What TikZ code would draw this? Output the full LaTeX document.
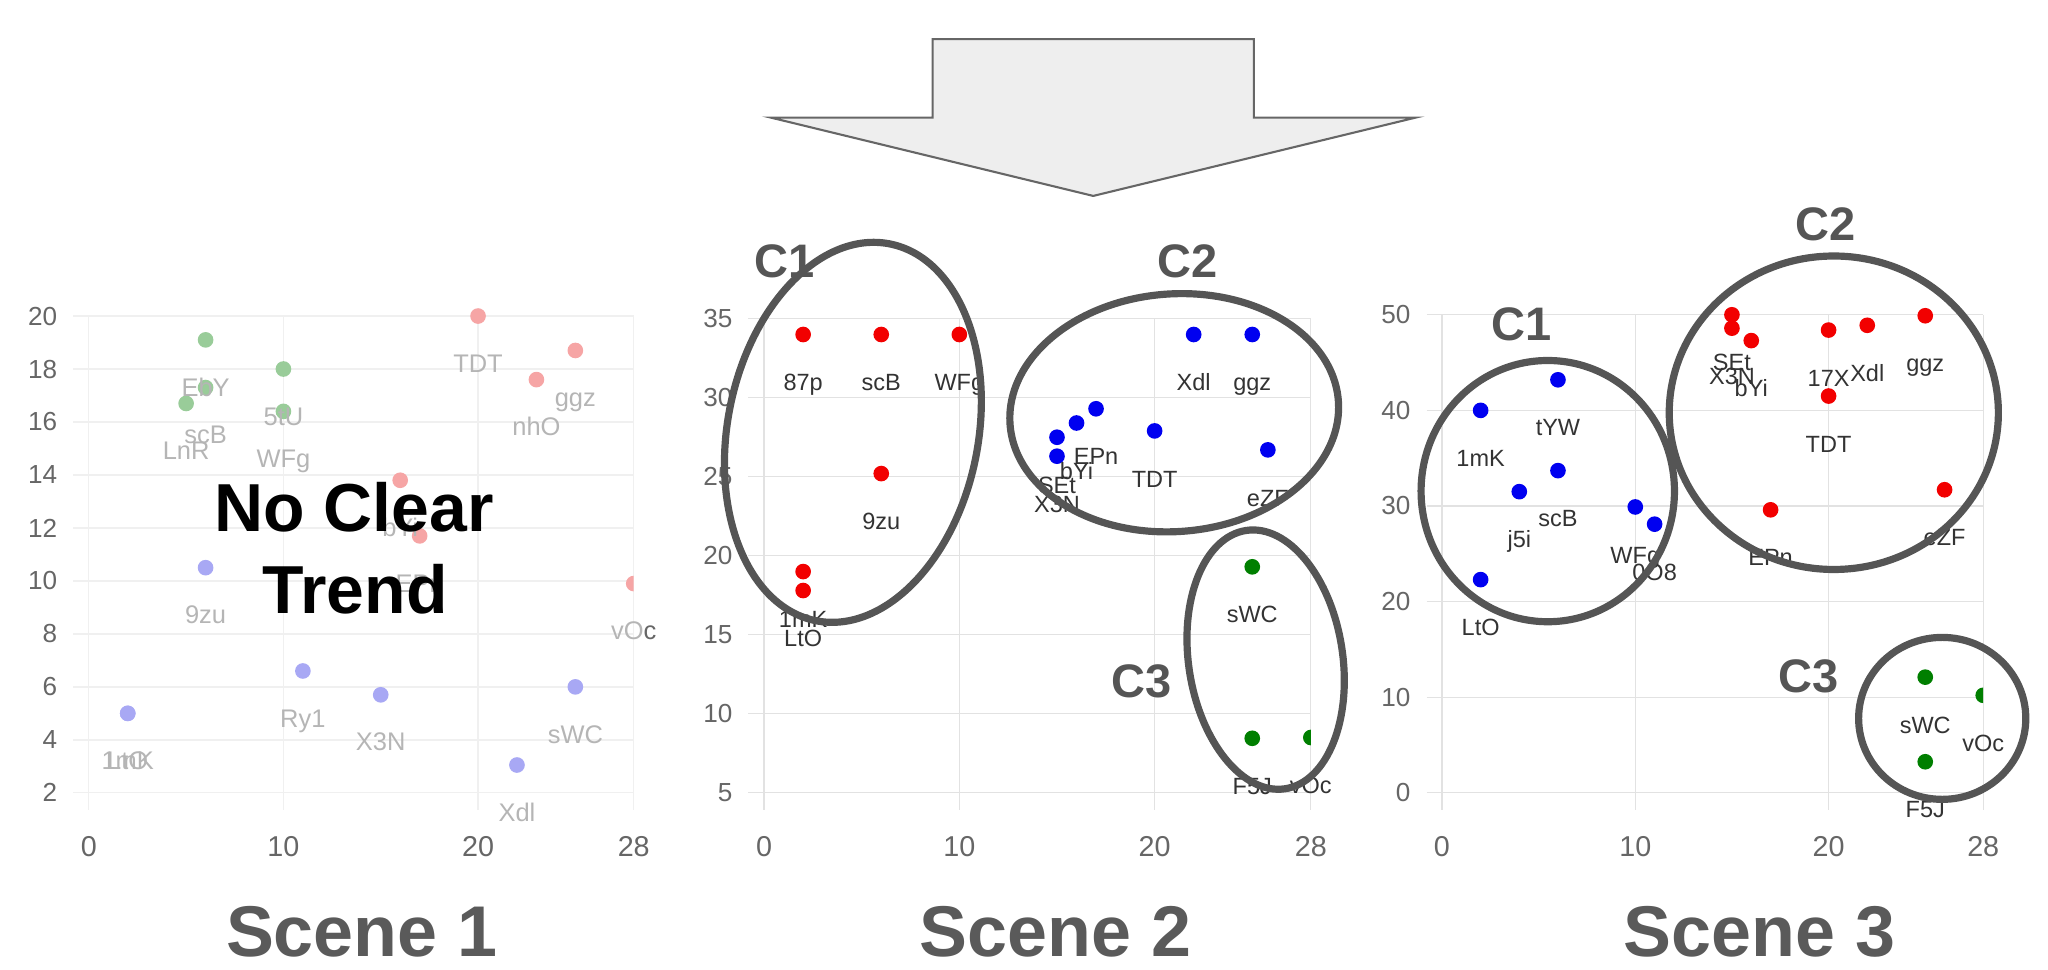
\documentclass[tikz,border=0pt]{standalone}
\usepackage{fontspec}
\setmainfont{Liberation Sans}
\usepackage{xcolor}
\usepackage{tikz}

\definecolor{gridfaint}{HTML}{F0F0F0}
\definecolor{gridline}{HTML}{E2E2E2}
\definecolor{tickgray}{HTML}{666666}
\definecolor{lblgray}{HTML}{333333}
\definecolor{fadegray}{HTML}{B5B5B5}
\definecolor{ptred}{HTML}{F20000}
\definecolor{ptblue}{HTML}{0000F0}
\definecolor{ptgreen}{HTML}{007F00}
\definecolor{fadered}{HTML}{F6A5A5}
\definecolor{fadeblue}{HTML}{A8A8F4}
\definecolor{fadegreen}{HTML}{99CC99}
\definecolor{ringgray}{HTML}{555555}
\definecolor{arrowfill}{HTML}{EEEEEE}
\definecolor{arrowline}{HTML}{666666}
\definecolor{titlegray}{HTML}{5A5A5A}

\begin{document}
\begin{tikzpicture}[x=1pt, y=-1pt,
		gridln/.style={line width=1pt},
		ytick/.style={anchor=east, xshift=-24pt, inner sep=0pt, text=tickgray, font=\fontsize{20}{20}\selectfont},
		xtick/.style={anchor=base, yshift=-49pt, inner sep=0pt, text=tickgray, font=\fontsize{22}{22}\selectfont},
		dot/.style={circle, inner sep=0pt, minimum size=12pt},
		rdot/.style={dot, fill=ptred},
		bdot/.style={dot, fill=ptblue},
		gdot/.style={dot, fill=ptgreen},
		frdot/.style={dot, fill=fadered},
		fbdot/.style={dot, fill=fadeblue},
		fgdot/.style={dot, fill=fadegreen},
		lbl/.style={anchor=base, yshift=-43pt, inner sep=0pt, text=lblgray, font=\fontsize{18}{18}\selectfont},
		flbl/.style={lbl, text=fadegray, font=\fontsize{19.5}{20}\selectfont},
		ring/.style={draw=ringgray, line width=5.5pt},
		ctag/.style={inner sep=0pt, text=ringgray, font=\fontsize{36}{36}\selectfont\bfseries},
		scene/.style={anchor=base, inner sep=0pt, text=titlegray, font=\fontsize{55}{55}\selectfont\bfseries},
		bigarrow/.style={draw=arrowline, fill=arrowfill, line width=1.6pt, line join=miter}]

		\useasboundingbox (0, 0) rectangle (1568, 742);

		\draw[bigarrow] (714, 30) -- (960, 30) -- (960, 90) -- (1084, 90) -- (837, 150) -- (590, 90) -- (714, 90) -- cycle;

		\begin{scope}[shift={(68, 607)}, x=14.9pt, y=20.28pt, shift={(0, -2)}]
			\foreach \y in {2, 4, ..., 20} {
				\draw[gridln, gridfaint] (-0.8, \y) -- (28, \y);
				\draw (0, \y) node[ytick] (ay\y) {\y};
			}
			\foreach \x in {0, 10, 20, 28} {
				\draw[gridln, gridfaint] (\x, 20) -- (\x, 1.36);
				\draw (\x, 2) node[xtick] (ax\x) {\x};
			}
			\begin{scope}
				\clip (-1, 0) rectangle (28, 22);
				\draw (6, 19.1)   node[fgdot] (aEbY) {};
				\draw (10, 18)    node[fgdot] (a5tU) {};
				\draw (6, 17.3)   node[fgdot] (ascB) {};
				\draw (5, 16.7)   node[fgdot] (aLnR) {};
				\draw (10, 16.4)  node[fgdot] (aWFg) {};
				\draw (20, 20)    node[frdot] (aTDT) {};
				\draw (25, 18.7)  node[frdot] (aggz) {};
				\draw (23, 17.6)  node[frdot] (anhO) {};
				\draw (16, 13.8)  node[frdot] (abYi) {};
				\draw (17, 11.7)  node[frdot] (aEPn) {};
				\draw (28, 9.9)   node[frdot] (avOc) {};
				\draw (6, 10.5)   node[fbdot] (a9zu) {};
				\draw (2, 5)      node[fbdot] (a1mK) {};
				\draw (2, 5)      node[fbdot] (aLtO) {};
				\draw (11, 6.6)   node[fbdot] (aRy1) {};
				\draw (15, 5.7)   node[fbdot] (aX3N) {};
				\draw (22, 3.05)  node[fbdot] (aXdl) {};
				\draw (25, 6.0)   node[fbdot] (asWC) {};
			\end{scope}
			\draw (aEbY) node[flbl] (taEbY) {EbY};
			\draw (a5tU) node[flbl] (ta5tU) {5tU};
			\draw (ascB) node[flbl] (tascB) {scB};
			\draw (aLnR) node[flbl] (taLnR) {LnR};
			\draw (aWFg) node[flbl] (taWFg) {WFg};
			\draw (aTDT) node[flbl] (taTDT) {TDT};
			\draw (aggz) node[flbl] (taggz) {ggz};
			\draw (anhO) node[flbl] (tanhO) {nhO};
			\draw (abYi) node[flbl] (tabYi) {bYi};
			\draw (aEPn) node[flbl] (taEPn) {EPn};
			\draw (avOc) node[flbl] (tavOc) {vO\textcolor{tickgray}{c}};
			\draw (a9zu) node[flbl] (ta9zu) {9zu};
			\draw (a1mK) node[flbl] (ta1mK) {1mK};
			\draw (aLtO) node[flbl] (taLtO) {LtO};
			\draw (aRy1) node[flbl] (taRy1) {Ry1};
			\draw (aX3N) node[flbl] (taX3N) {X3N};
			\draw (aXdl) node[flbl] (taXdl) {Xdl};
			\draw (asWC) node[flbl] (tasWC) {sWC};
		\end{scope}

		\begin{scope}[shift={(585, 607)}, x=14.95pt, y=12.1pt, shift={(0, -5)}]
			\foreach \y in {5, 10, ..., 35} {
				\draw[gridln, gridline] (-0.8, \y) -- (28, \y);
				\draw (0, \y) node[ytick] (by\y) {\y};
			}
			\foreach \x in {0, 10, 20, 28} {
				\draw[gridln, gridline] (\x, 35) -- (\x, 3.93);
				\draw (\x, 5) node[xtick] (bx\x) {\x};
			}
			\begin{scope}
				\clip (-1, 0) rectangle (28, 40);
				\draw (2, 34)     node[rdot] (b87p) {};
				\draw (6, 34)     node[rdot] (bscB) {};
				\draw (10, 34)    node[rdot] (bWFg) {};
				\draw (6, 25.2)   node[rdot] (b9zu) {};
				\draw (2, 19)     node[rdot] (b1mK) {};
				\draw (2, 17.8)   node[rdot] (bLtO) {};
				\draw (22, 34)    node[bdot] (bXdl) {};
				\draw (25, 34)    node[bdot] (bggz) {};
				\draw (17, 29.3)  node[bdot] (bEPn) {};
				\draw (16, 28.4)  node[bdot] (bbYi) {};
				\draw (15, 27.5)  node[bdot] (bSEt) {};
				\draw (15, 26.3)  node[bdot] (bX3N) {};
				\draw (20, 27.9)  node[bdot] (bTDT) {};
				\draw (25.8, 26.7) node[bdot] (beZF) {};
				\draw (25, 19.3)  node[gdot] (bsWC) {};
				\draw (25, 8.45)  node[gdot] (bF5J) {};
				\draw (28, 8.5)   node[gdot] (bvOc) {};
			\end{scope}
			\draw (b87p) node[lbl] (tb87p) {87p};
			\draw (bscB) node[lbl] (tbscB) {scB};
			\draw (bWFg) node[lbl] (tbWFg) {WFg};
			\draw (b9zu) node[lbl] (tb9zu) {9zu};
			\draw (b1mK) node[lbl] (tb1mK) {1mK};
			\draw (bLtO) node[lbl] (tbLtO) {LtO};
			\draw (bXdl) node[lbl] (tbXdl) {Xdl};
			\draw (bggz) node[lbl] (tbggz) {ggz};
			\draw (bEPn) node[lbl] (tbEPn) {EPn};
			\draw (bbYi) node[lbl] (tbbYi) {bYi};
			\draw (bSEt) node[lbl] (tbSEt) {SEt};
			\draw (bX3N) node[lbl] (tbX3N) {X3N};
			\draw (bTDT) node[lbl] (tbTDT) {TDT};
			\draw (beZF) node[lbl] (tbeZF) {eZF};
			\draw (bsWC) node[lbl] (tbsWC) {sWC};
			\draw (bF5J) node[lbl] (tbF5J) {F5J};
			\draw (bvOc) node[lbl] (tbvOc) {vOc};
		\end{scope}

		\begin{scope}[shift={(1104, 607)}, x=14.8pt, y=7.32pt]
			\foreach \y in {0, 10, ..., 50} {
				\draw[gridln, gridline] (-0.8, \y) -- (28, \y);
				\draw (0, \y) node[ytick] (cy\y) {\y};
			}
			\foreach \x in {0, 10, 20, 28} {
				\draw[gridln, gridline] (\x, 50) -- (\x, -1.78);
				\draw (\x, 0) node[xtick] (cx\x) {\x};
			}
			\begin{scope}
				\clip (-1, -5) rectangle (28, 55);
				\draw (2, 40)     node[bdot] (c1mK) {};
				\draw (6, 43.2)   node[bdot] (ctYW) {};
				\draw (6, 33.7)   node[bdot] (cscB) {};
				\draw (4, 31.5)   node[bdot] (cj5i) {};
				\draw (10, 29.9)  node[bdot] (cWFg) {};
				\draw (11, 28.1)  node[bdot] (c0O8) {};
				\draw (2, 22.3)   node[bdot] (cLtO) {};
				\draw (15, 50)    node[rdot] (cSEt) {};
				\draw (15, 48.6)  node[rdot] (cX3N) {};
				\draw (16, 47.3)  node[rdot] (cbYi) {};
				\draw (20, 48.4)  node[rdot] (c17X) {};
				\draw (22, 48.9)  node[rdot] (cXdl) {};
				\draw (25, 49.9)  node[rdot] (cggz) {};
				\draw (20, 41.5)  node[rdot] (cTDT) {};
				\draw (17, 29.6)  node[rdot] (cEPn) {};
				\draw (26, 31.7)  node[rdot] (ceZF) {};
				\draw (25, 12.1)  node[gdot] (csWC) {};
				\draw (28, 10.2)  node[gdot] (cvOc) {};
				\draw (25, 3.25)  node[gdot] (cF5J) {};
			\end{scope}
			\draw (c1mK) node[lbl] (tc1mK) {1mK};
			\draw (ctYW) node[lbl] (tctYW) {tYW};
			\draw (cscB) node[lbl] (tcscB) {scB};
			\draw (cj5i) node[lbl] (tcj5i) {j5i};
			\draw (cWFg) node[lbl] (tcWFg) {WFg};
			\draw (c0O8) node[lbl] (tc0O8) {0O8};
			\draw (cLtO) node[lbl] (tcLtO) {LtO};
			\draw (cSEt) node[lbl] (tcSEt) {SEt};
			\draw (cX3N) node[lbl] (tcX3N) {X3N};
			\draw (cbYi) node[lbl] (tcbYi) {bYi};
			\draw (c17X) node[lbl] (tc17X) {17X};
			\draw (cXdl) node[lbl] (tcXdl) {Xdl};
			\draw (cggz) node[lbl] (tcggz) {ggz};
			\draw (cTDT) node[lbl] (tcTDT) {TDT};
			\draw (cEPn) node[lbl] (tcEPn) {EPn};
			\draw (ceZF) node[lbl] (tceZF) {eZF};
			\draw (csWC) node[lbl] (tcsWC) {sWC};
			\draw (cvOc) node[lbl] (tcvOc) {vOc};
			\draw (cF5J) node[lbl] (tcF5J) {F5J};
		\end{scope}

		\draw (271, 407) node[anchor=base, inner sep=0pt, font=\fontsize{52}{52}\selectfont\bfseries] (noclear) {No Clear};
		\draw (272, 470) node[anchor=base, inner sep=0pt, font=\fontsize{52}{52}\selectfont\bfseries] (trend) {Trend};

		\draw[ring, rotate around={-11:(653, 331)}] (653, 331) ellipse (96 and 147);
		\draw[ring, rotate around={4:(899, 316)}] (899, 316) ellipse (126 and 91);
		\draw[ring, rotate around={8.6:(969, 505)}] (969, 505) ellipse (59 and 100);
		\draw[ring] (1185, 376) ellipse (97 and 100);
		\draw[ring] (1404, 316) ellipse (126 and 120);
		\draw[ring] (1487, 550) ellipse (64 and 62);

		\draw (601, 200)  node[ctag] (bc1) {C1};
		\draw (909, 200)  node[ctag] (bc2) {C2};
		\draw (874, 522)  node[ctag] (bc3) {C3};
		\draw (1165, 248) node[ctag] (cc1) {C1};
		\draw (1398, 172) node[ctag] (cc2) {C2};
		\draw (1385, 518) node[ctag] (cc3) {C3};

		\draw (277, 732)  node[scene] (scene1) {Scene 1};
		\draw (808, 732)  node[scene] (scene2) {Scene 2};
		\draw (1347, 732) node[scene] (scene3) {Scene 3};

	\end{tikzpicture}
\end{document}
